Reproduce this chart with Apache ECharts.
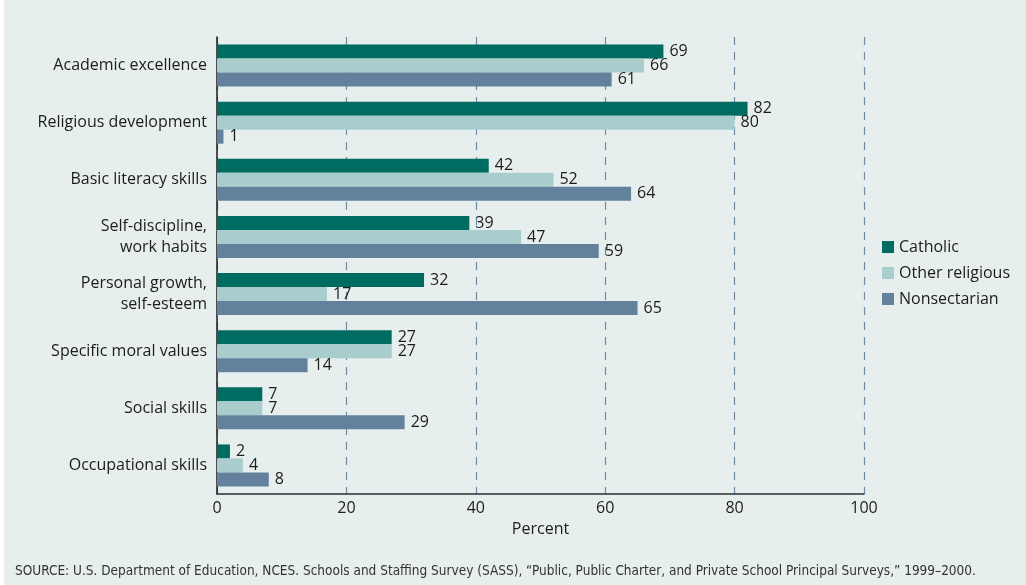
<!DOCTYPE html>
<html>
<head>
<meta charset="utf-8">
<script src="https://cdn.jsdelivr.net/npm/echarts@6/dist/echarts.min.js"></script>
<style>
  html, body { margin: 0; padding: 0; background: #ffffff; }
  #chart { position: absolute; left: 4px; top: 0; width: 1022px; height: 585px; background: #e7efee; }
</style>
</head>
<body>
<div id="chart"></div>
<script>
// categories, top to bottom
const categories = [
  'Academic excellence',
  'Religious development',
  'Basic literacy skills',
  'Self-discipline,\nwork habits',
  'Personal growth,\nself-esteem',
  'Specific moral values',
  'Social skills',
  'Occupational skills'
]
const catholic = [69, 82, 42, 39, 32, 27, 7, 2]
const otherReligious = [66, 80, 52, 47, 17, 27, 7, 4]
const nonsectarian = [61, 1, 64, 59, 65, 14, 29, 8]
const xTicks = [0, 20, 40, 60, 80, 100]

const sourceNote = 'SOURCE: U.S. Department of Education, NCES. Schools and Staffing Survey (SASS), \u201cPublic, Public Charter, and Private School Principal Surveys,\u201d 1999\u20132000.'

const font = '"Open Sans", "Noto Sans", sans-serif'
const textColor = '#1c1c1c'

// y axis runs bottom-up, so flip the lists to keep the first category on top
const rev = arr => arr.slice().reverse()

function makeSeries(name, data, color) {
  return {
    name: name,
    type: 'bar',
    data: rev(data),
    barWidth: 14,
    barGap: '0%',
    itemStyle: { color: color },
    label: {
      show: true,
      position: 'right',
      distance: 6,
      color: textColor,
      fontFamily: font,
      fontSize: 16
    },
    animation: false
  }
}

const chart = echarts.init(document.getElementById('chart'))
chart.setOption({
  backgroundColor: '#e7efee',
  textStyle: { fontFamily: font },
  title: {
    text: sourceNote,
    left: 6,
    bottom: 2,
    textStyle: {
      fontFamily: '"DejaVu Sans Condensed", "Liberation Sans Narrow", sans-serif',
      fontWeight: 'normal',
      fontSize: 13.5,
      color: '#333333'
    }
  },
  legend: {
    orient: 'vertical',
    left: 873,
    top: 234,
    itemWidth: 12,
    itemHeight: 12,
    itemGap: 10,
    icon: 'rect',
    textStyle: { fontFamily: font, fontSize: 16, color: textColor },
    data: ['Catholic', 'Other religious', 'Nonsectarian']
  },
  grid: {
    left: 213,
    right: 162,
    top: 37,
    bottom: 91,
    containLabel: false
  },
  xAxis: {
    type: 'value',
    min: 0,
    max: 100,
    interval: 20,
    name: 'Percent',
    nameLocation: 'middle',
    nameGap: 27,
    nameTextStyle: { fontFamily: font, fontSize: 16, color: textColor },
    axisLine: { show: true, lineStyle: { color: '#2a2f35', width: 1.5 } },
    axisTick: { show: false },
    axisLabel: {
      color: textColor,
      fontFamily: font,
      fontSize: 16,
      margin: 6,
      formatter: v => xTicks.indexOf(v) >= 0 ? String(v) : ''
    },
    splitLine: {
      show: true,
      lineStyle: { color: '#6f8aa3', type: [8, 7], width: 1.2 }
    }
  },
  yAxis: {
    type: 'category',
    data: rev(categories),
    axisLine: { show: true, lineStyle: { color: '#1a1a1a', width: 1.5 } },
    axisTick: { show: false },
    axisLabel: {
      color: textColor,
      fontFamily: font,
      fontSize: 16,
      lineHeight: 21,
      margin: 10,
      align: 'right'
    }
  },
  series: [
    makeSeries('Catholic', catholic, '#006b60'),
    makeSeries('Other religious', otherReligious, '#a8cdcc'),
    makeSeries('Nonsectarian', nonsectarian, '#63809c')
  ]
})
</script>
</body>
</html>
